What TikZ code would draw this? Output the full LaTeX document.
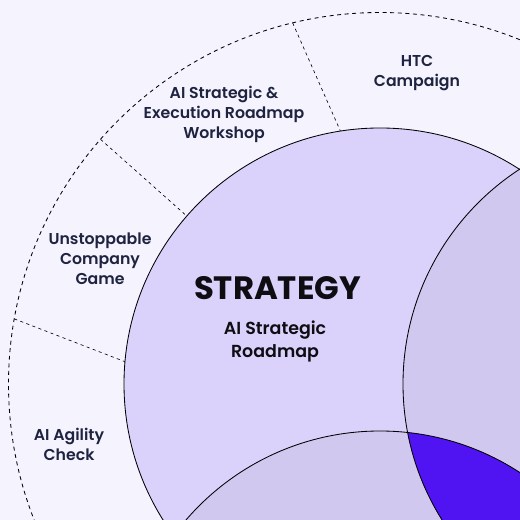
\documentclass[tikz,border=0pt]{standalone}
\usepackage{fontspec}
\setmainfont{Poppins}[UprightFont={* Medium},BoldFont={* Bold}]
\newfontfamily\labelfont{Poppins}[UprightFont={* SemiBold}]
\definecolor{bgpage}{HTML}{F5F3FE}
\definecolor{stratfill}{HTML}{DBD2FC}
\definecolor{overlapfill}{HTML}{D0C8EE}
\definecolor{corefill}{HTML}{5014F2}
\definecolor{inkblue}{HTML}{1E2340}
\definecolor{titleink}{HTML}{0D0D12}

\begin{document}
\begin{tikzpicture}[x=0.025cm,y=0.025cm,
  ringline/.style={line width=0.6pt,dash pattern=on 2.8pt off 2.6pt},
  sepline/.style={line width=0.45pt,dash pattern=on 2.2pt off 2.4pt},
  ringlabel/.style={align=center,text=inkblue,font=\labelfont\fontsize{11.2}{14.2}\selectfont},
  venn/.style={line width=0.6pt,draw=black}]
  \useasboundingbox (0,0) rectangle (520,520);
  \fill[bgpage] (0,0) rectangle (520,520);
  \clip (0,0) rectangle (520,520);
  \coordinate (strat) at (380,136);
  \coordinate (exec) at (659,136);
  \coordinate (low) at (380,-167);
  % circles
  \fill[stratfill] (strat) circle (256);
  \begin{scope}
    \clip (strat) circle (256);
    \fill[overlapfill] (exec) circle (256);
    \fill[overlapfill] (low) circle (256);
    \clip (exec) circle (256);
    \fill[corefill] (low) circle (256);
  \end{scope}
  \draw[venn] (strat) circle (256);
  \draw[venn] (exec) circle (256);
  \draw[venn] (low) circle (256);
  % outer ring
  \draw[ringline] (strat) circle (371.5);
  \coordinate (outA) at ([shift={(103.6:371.5)}]strat);
  \coordinate (inA) at ([shift={(98.9:256)}]strat);
  \coordinate (outB) at ([shift={(138.8:371.5)}]strat);
  \coordinate (inB) at ([shift={(139:256)}]strat);
  \coordinate (outC) at ([shift={(169.9:371.5)}]strat);
  \coordinate (inC) at ([shift={(175:256)}]strat);
  \draw[sepline] (outA) -- (inA);
  \draw[sepline] (outB) -- (inB);
  \draw[sepline] (outC) -- (inC);
  % labels
  \node[ringlabel] (htc) at (417,447) {HTC\\Campaign};
  \node[ringlabel] (workshop) at (224,406) {AI Strategic \&\\Execution Roadmap\\Workshop};
  \node[ringlabel] (game) at (100,261) {Unstoppable\\Company\\Game};
  \node[ringlabel] (agility) at (69,76) {AI Agility\\Check};
  \node[text=titleink,font=\bfseries\fontsize{23}{27}\selectfont] (strategy) at (277.5,232) {STRATEGY};
  \node[align=center,text=titleink,font=\labelfont\fontsize{12.4}{17}\selectfont] (roadmap) at (275,178.5) {AI Strategic\\Roadmap};
\end{tikzpicture}
\end{document}
